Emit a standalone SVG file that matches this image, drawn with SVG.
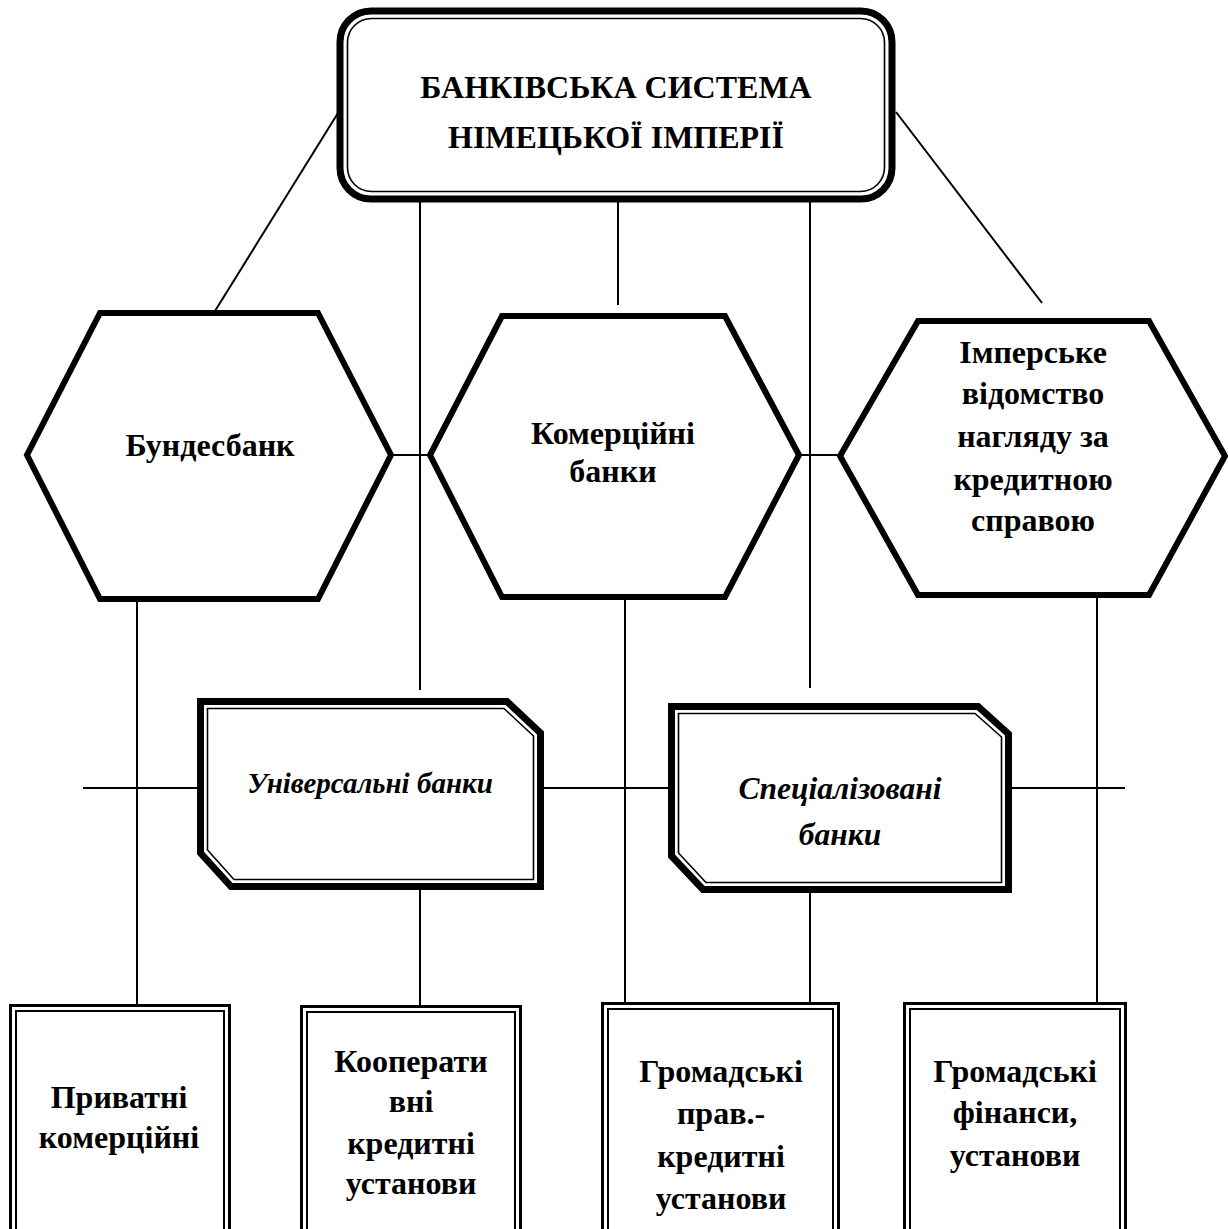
<svg xmlns="http://www.w3.org/2000/svg" width="1228" height="1229" viewBox="0 0 1228 1229">
<style>
.t{font-family:"Liberation Serif","Times New Roman",serif;font-weight:bold;font-size:32px;fill:#000;text-anchor:middle}
.i{font-style:italic}
.thick{fill:#fff;stroke:#000;stroke-width:7;stroke-linejoin:miter}
.thin{fill:none;stroke:#000;stroke-width:1.6}
.hex{fill:#fff;stroke:#000;stroke-width:6;stroke-linejoin:miter}
.bo{fill:#fff;stroke:#000;stroke-width:3}
.bi{fill:none;stroke:#000;stroke-width:2}
.c{stroke:#000;stroke-width:2;fill:none}
</style>
<rect width="1228" height="1229" fill="#fff"/>
<g id="connectors">
<line class="c" x1="338" y1="113" x2="215" y2="311"/>
<line class="c" x1="896" y1="112" x2="1042" y2="303"/>
<line class="c" x1="420" y1="200" x2="420" y2="690"/>
<line class="c" x1="618" y1="200" x2="618" y2="305"/>
<line class="c" x1="810" y1="200" x2="810" y2="688"/>
<line class="c" x1="391" y1="455" x2="430" y2="455"/>
<line class="c" x1="800" y1="455" x2="840" y2="455"/>
<line class="c" x1="137" y1="600" x2="137" y2="1005"/>
<line class="c" x1="625" y1="598" x2="625" y2="1003"/>
<line class="c" x1="1097" y1="596" x2="1097" y2="1002"/>
<line class="c" x1="83" y1="788" x2="198" y2="788"/>
<line class="c" x1="544" y1="788" x2="669" y2="788"/>
<line class="c" x1="1011" y1="788" x2="1125" y2="788"/>
<line class="c" x1="420" y1="888" x2="420" y2="1005"/>
<line class="c" x1="810" y1="893" x2="810" y2="1003"/>
</g>
<g id="top">
<rect class="thick" x="340" y="11" width="552" height="188" rx="31"/>
<rect class="thin" x="347.5" y="18.5" width="537" height="173" rx="24"/>
<text class="t" x="616" y="98">БАНКІВСЬКА СИСТЕМА</text>
<text class="t" x="616" y="148">НІМЕЦЬКОЇ ІМПЕРІЇ</text>
</g>
<g id="bundesbank">
<polygon class="hex" points="100,313 318,313 391,455 318,599 100,599 27,455"/>
<text class="t" x="210" y="456">Бундесбанк</text>
</g>
<g id="commercial">
<polygon class="hex" points="502,316 725,316 799,455 725,597 502,597 430,455"/>
<text class="t" x="613" y="444">Комерційні</text>
<text class="t" x="613" y="482">банки</text>
</g>
<g id="supervision">
<polygon class="hex" points="918,321 1149,321 1225,456 1149,595 918,595 840,456"/>
<text class="t" x="1033" y="363">Імперське</text>
<text class="t" x="1033" y="404">відомство</text>
<text class="t" x="1033" y="447">нагляду за</text>
<text class="t" x="1033" y="490">кредитною</text>
<text class="t" x="1033" y="531">справою</text>
</g>
<g id="universal">
<path class="thick" d="M200.5,701.5 L507,701.5 L540.5,733 L540.5,886.5 L231,886.5 L200.5,853 Z"/>
<path class="thin" d="M207.5,708.5 L504,708.5 L533.5,736 L533.5,879.5 L234,879.5 L207.5,850 Z"/>
<text class="t i" x="370" y="793" style="font-size:29px">Універсальні банки</text>
</g>
<g id="specialized">
<path class="thick" d="M671.5,706.5 L978,706.5 L1008.5,734 L1008.5,889.5 L703,889.5 L671.5,856 Z"/>
<path class="thin" d="M678.5,713.5 L975,713.5 L1001.5,737 L1001.5,882.5 L706,882.5 L678.5,853 Z"/>
<text class="t i" x="840" y="799" style="font-size:31.5px">Спеціалізовані</text>
<text class="t i" x="840" y="845" style="font-size:31.5px">банки</text>
</g>
<g id="private">
<rect class="bo" x="10.5" y="1005.5" width="219" height="240"/>
<rect class="bi" x="16" y="1011" width="208" height="240"/>
<text class="t" x="119" y="1108">Приватні</text>
<text class="t" x="119" y="1148">комерційні</text>
</g>
<g id="cooperative">
<rect class="bo" x="301.5" y="1006.5" width="219" height="240"/>
<rect class="bi" x="307" y="1012" width="208" height="240"/>
<text class="t" x="411" y="1072">Кооперати</text>
<text class="t" x="411" y="1112">вні</text>
<text class="t" x="411" y="1154">кредитні</text>
<text class="t" x="411" y="1194">установи</text>
</g>
<g id="public-law">
<rect class="bo" x="602.5" y="1003.5" width="236" height="240"/>
<rect class="bi" x="608" y="1009" width="225" height="240"/>
<text class="t" x="721" y="1082">Громадські</text>
<text class="t" x="721" y="1124">прав.-</text>
<text class="t" x="721" y="1167">кредитні</text>
<text class="t" x="721" y="1209">установи</text>
</g>
<g id="public-finance">
<rect class="bo" x="904.5" y="1003.5" width="221" height="240"/>
<rect class="bi" x="910" y="1009" width="210" height="240"/>
<text class="t" x="1015" y="1082">Громадські</text>
<text class="t" x="1015" y="1123">фінанси,</text>
<text class="t" x="1015" y="1166">установи</text>
</g>
</svg>
